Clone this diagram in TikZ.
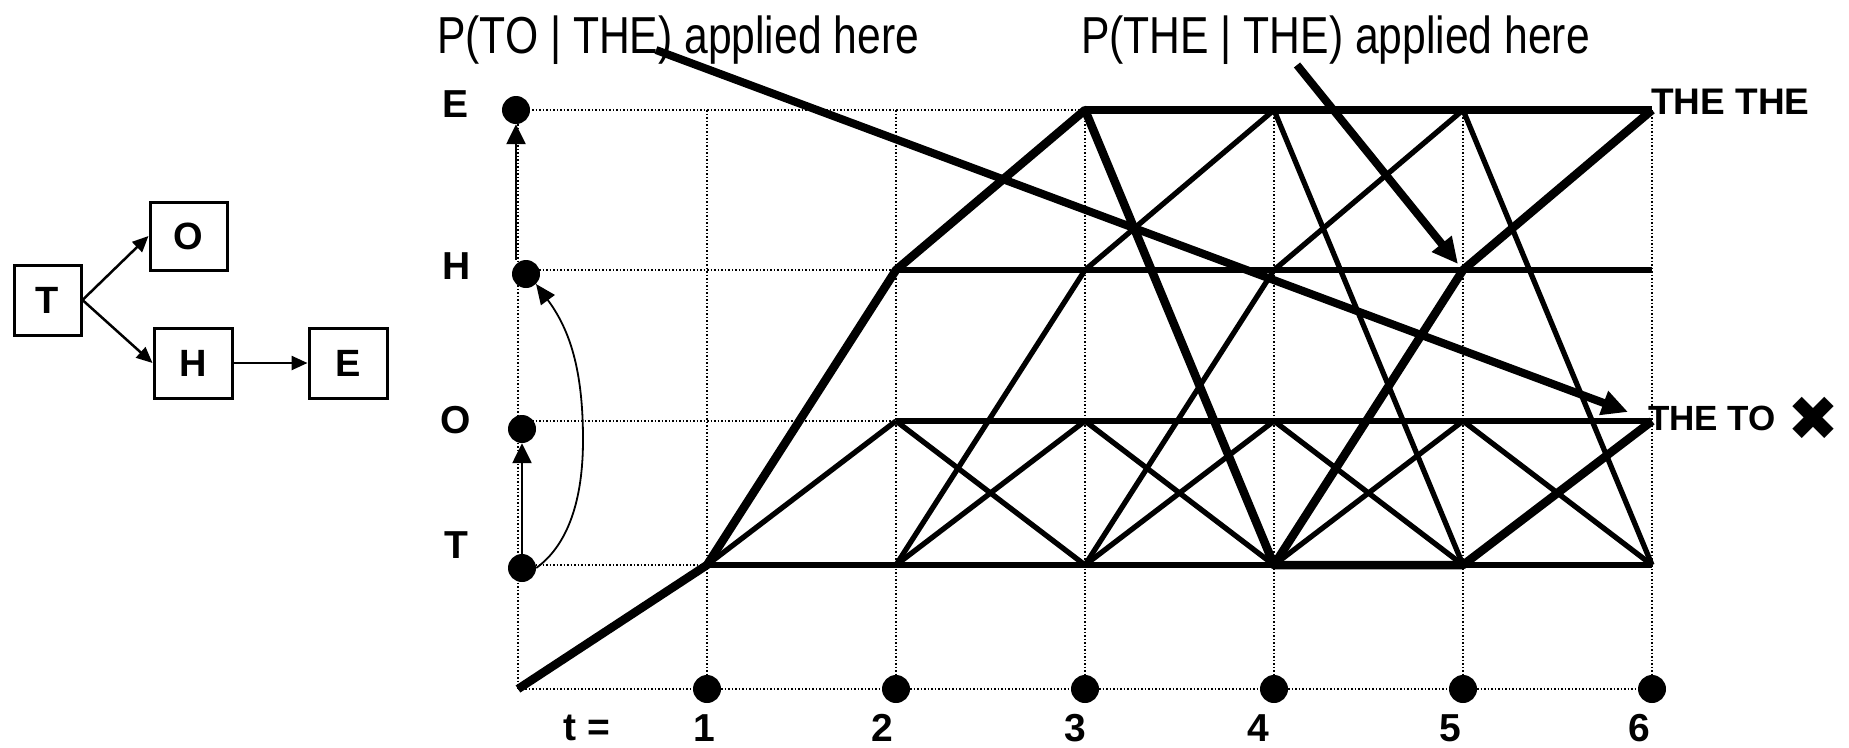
\documentclass[tikz,border=0pt]{standalone}
\usepackage{graphicx}
\usepackage{fontspec}
\setmainfont{Liberation Sans}
\newfontfamily\symfont{DejaVu Sans}
\usetikzlibrary{arrows.meta}
\begin{document}
\begin{tikzpicture}[x=1pt,y=-1pt,
  gridline/.style={line width=1.5pt, dash pattern=on 1.5pt off 2pt},
  norm/.style={line width=5.3pt},
  heavy/.style={line width=8.5pt, line join=round},
  dot/.style={circle, fill=black, inner sep=0pt, minimum size=28pt},
  lbl/.style={font=\fontsize{39}{42}\selectfont\bfseries, inner sep=0pt},
  boxnode/.style={draw, line width=3pt, inner sep=0pt, font=\fontsize{38}{40}\selectfont\bfseries},
  smallarr/.style={line width=2.5pt, -{Triangle[length=16pt,width=14pt]}},
  leftarr/.style={line width=2.5pt, -{Triangle[length=20pt,width=19pt]}},
  bigarr/.style={line width=8pt, -{Triangle[length=26pt,width=24pt]}},
  toptext/.style={anchor=base west, inner sep=0pt, font=\fontsize{52}{60}\selectfont}
]
\useasboundingbox (0,0) rectangle (1849,747);

% grid coordinates
\foreach \c in {0,...,6}{
  \coordinate (E\c) at ({518+189*\c},110);
  \coordinate (H\c) at ({518+189*\c},270);
  \coordinate (O\c) at ({518+189*\c},421);
  \coordinate (T\c) at ({518+189*\c},565);
  \coordinate (B\c) at ({518+189*\c},689);
}
% dotted grid
\foreach \c in {0,...,6}{ \draw[gridline] (E\c) -- (B\c); }
\foreach \r in {E,H,O,T,B}{ \draw[gridline] (\r0) -- (\r6); }

% normal transitions
\foreach \a/\b in {T1/T2, T1/O2,
  T2/T3, T2/O3, T2/H3, O2/O3, O2/T3, H2/H3,
  T3/T4, T3/O4, T3/H4, O3/O4, O3/T4, H3/H4, H3/E4,
  T4/O5, O4/O5, O4/T5, H4/H5, H4/E5, E4/T5,
  T5/T6, O5/O6, O5/T6, H5/H6, E5/T6}
  { \draw[norm] (\a) -- (\b); }

% heavy path
\draw[heavy] (B0) -- (T1) -- (H2) -- (E3) -- (T4) -- (H5) -- (E6);
\draw[heavy] (E3) -- (E6);
\draw[heavy] (T4) -- (T5) -- (O6);

% annotation arrows
\node[toptext] (p1) at (437,53) {\scalebox{0.82}[1]{P(TO | THE) applied here}};
\node[toptext] (p2) at (1081,53) {\scalebox{0.82}[1]{P(THE | THE) applied here}};
\coordinate (a1s) at (656,50);
\coordinate (a1e) at (1628,412);
\coordinate (a2s) at (1297,65);
\coordinate (a2e) at (1458,264);
\draw[bigarr] (a1s) -- (a1e);
\draw[bigarr] (a2s) -- (a2e);

% result labels
\node[lbl, anchor=base west, font=\fontsize{37}{40}\selectfont\bfseries] (rthe) at (1651,114) {THE THE};
\node[lbl, anchor=base west, font=\fontsize{35}{40}\selectfont\bfseries] (rto) at (1648,430) {THE TO};
\node[inner sep=0pt, font=\fontsize{62}{64}\selectfont\symfont] (xmark) at (1813,419) {✖};

% left column dots and arrows
\node[dot] (eD) at (516,110) {};
\node[dot] (hD) at (526,274) {};
\node[dot] (oD) at (522,429) {};
\node[dot] (tD) at (522,568) {};
\draw[leftarr] (eD |- hD.north) -- (eD.south);
\draw[leftarr] (tD) -- (oD);
\coordinate (cmid) at (583,440);
\draw[line width=1.8pt, -{Triangle[length=20pt,width=17pt]}]
  (tD.east) .. controls (568,545) and (583,500) .. (cmid)
  .. controls (583,370) and (570,330) .. (hD.south east);

% row labels
\node[lbl] (lE) at (456,104) {E};
\node[lbl] (lH) at (457,266) {H};
\node[lbl] (lO) at (456,420) {O};
\node[lbl] (lT) at (456,545) {T};

% bottom dots and time labels
\foreach \c in {1,...,6}{ \node[dot] (d\c) at (B\c) {}; }
\node[lbl] (tl) at (587,728) {t =};
\foreach \n/\x in {1/704, 2/882, 3/1075, 4/1258, 5/1450, 6/1639}
  { \node[lbl] (n\n) at (\x,728) {\n}; }

% small graph on the left
\node[boxnode, minimum width=67pt, minimum height=70pt] (bT) at (47.5,300) {T};
\node[boxnode, minimum width=77pt, minimum height=68pt] (bO) at (188.5,236) {O};
\node[boxnode, minimum width=78pt, minimum height=70pt] (bH) at (193,363) {H};
\node[boxnode, minimum width=78pt, minimum height=70pt] (bE) at (348,363) {E};
\draw[smallarr] (bT.east) -- (bO.west);
\draw[smallarr] (bT.east) -- (bH.west);
\draw[smallarr] (bH) -- (bE);
\end{tikzpicture}
\end{document}
